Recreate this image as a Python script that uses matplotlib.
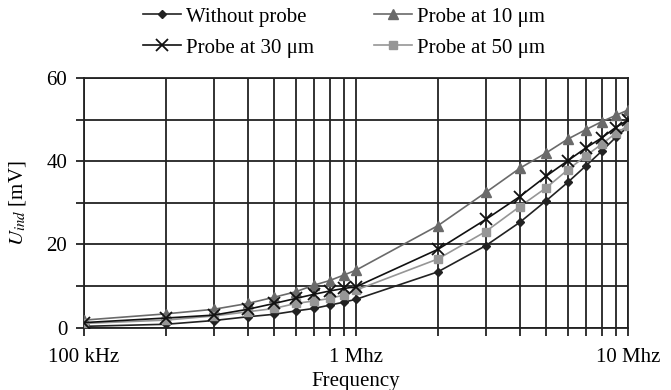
import matplotlib
matplotlib.use("Agg")
import matplotlib.pyplot as plt
from matplotlib.ticker import FixedLocator, NullFormatter

plt.rcParams['font.family'] = ['Liberation Serif', 'DejaVu Serif']
plt.rcParams['mathtext.fontset'] = 'stix'

# frequency in Hz
freq = [1e5, 2e5, 3e5, 4e5, 5e5, 6e5, 7e5, 8e5, 9e5,
        1e6, 2e6, 3e6, 4e6, 5e6, 6e6, 7e6, 8e6, 9e6, 1e7]

without_probe = [0.3, 0.8, 1.7, 2.6, 3.2, 4.0, 4.6, 5.4, 6.1, 6.8,
                 13.4, 19.7, 25.3, 30.5, 34.9, 38.9, 42.4, 45.7, 48.3]
probe_10 = [1.8, 3.3, 4.4, 5.8, 7.3, 8.6, 10.2, 11.3, 12.6, 13.8,
            24.5, 32.5, 38.3, 42.0, 45.3, 47.6, 49.5, 51.0, 52.3]
probe_30 = [1.2, 2.3, 3.0, 4.4, 5.8, 7.0, 8.0, 8.8, 9.4, 9.8,
            18.8, 26.0, 31.5, 36.4, 40.1, 43.2, 45.6, 48.1, 49.9]
probe_50 = [1.0, 1.8, 2.8, 3.8, 4.6, 5.8, 6.4, 7.0, 7.8, 9.0,
            16.5, 23.1, 29.1, 33.6, 37.9, 41.3, 44.1, 46.7, 48.5]

xtick_pos = [1e5, 1e6, 1e7]
xtick_labels = ["100 kHz", "1 Mhz", "10 Mhz"]

fig = plt.figure(figsize=(6.71, 3.9), dpi=100)
ax = fig.add_axes([0.125, 0.16, 0.811, 0.64])

l1, = ax.plot(freq, without_probe, color="#222222", lw=1.2, marker="D", ms=4.5,
              label="Without probe", zorder=5)
l2, = ax.plot(freq, probe_10, color="#6a6a6a", lw=1.2, marker="^", ms=7,
              label="Probe at 10 μm", zorder=4)
l3, = ax.plot(freq, probe_30, color="#111111", lw=1.2, marker="x", ms=8, mew=1.3,
              label="Probe at 30 μm", zorder=6)
l4, = ax.plot(freq, probe_50, color="#969696", lw=1.2, marker="s", ms=5.5,
              label="Probe at 50 μm", zorder=5)

ax.set_xscale("log")
ax.set_xlim(1e5, 1e7)
ax.set_ylim(0, 60)
ax.xaxis.set_major_locator(FixedLocator(xtick_pos))
ax.set_xticklabels(xtick_labels)
ax.xaxis.set_minor_locator(FixedLocator(freq))
ax.xaxis.set_minor_formatter(NullFormatter())
ax.yaxis.set_major_locator(FixedLocator([0, 20, 40, 60]))
ax.yaxis.set_minor_locator(FixedLocator([10, 30, 50]))
ax.grid(True, which="both", color="#222222", lw=1.3)
ax.tick_params(which="both", direction="out", length=6, width=1.3,
               color="#222222", labelsize=15)
ax.tick_params(axis="y", pad=6)
ax.tick_params(axis="x", pad=8.5)
for s in ax.spines.values():
    s.set_color("#222222")
    s.set_linewidth(1.3)

ax.set_xlabel("Frequency", fontsize=15, labelpad=4)
ax.set_ylabel("$U_{ind}$ [mV]", fontsize=15, labelpad=13)

fig.legend(handles=[l1, l3, l2, l4], ncol=2, frameon=False, fontsize=15,
           loc="upper left", bbox_to_anchor=(143 / 671, 1 - 7 / 390),
           borderpad=0, borderaxespad=0,
           columnspacing=2.9, handlelength=1.8, handletextpad=0.25,
           labelspacing=0.55)

fig.savefig("out.png", dpi=100)
